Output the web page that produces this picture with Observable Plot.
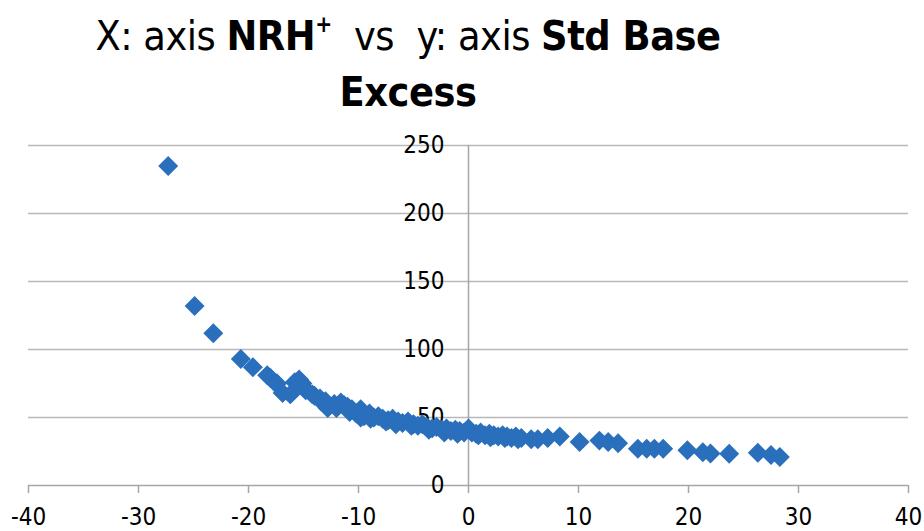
<!DOCTYPE html>
<html>
<head>
<meta charset="utf-8">
<script src="https://cdn.jsdelivr.net/npm/d3@7"></script>
<script src="https://cdn.jsdelivr.net/npm/@observablehq/plot@0.6"></script>
<style>
  html, body { margin: 0; padding: 0; background: #fff; }
  #wrap { position: relative; width: 924px; height: 531px; overflow: hidden; }
  #title { position: absolute; left: 0; top: 8px; width: 816px; text-align: center;
    font-family: "DejaVu Sans Condensed", "Liberation Sans Narrow", sans-serif;
    font-size: 41px; line-height: 56px; color: #000; letter-spacing: -0.5px; }
  #title b { font-weight: bold; }
  #title sup { font-size: 0.55em; vertical-align: 0.8em; line-height: 0; }
</style>
</head>
<body>
<div id="wrap">
  <div id="title">X: axis <b>NRH<sup>+</sup></b>&nbsp; vs&nbsp; y: axis <b>Std Base</b><br><b>Excess</b></div>
</div>
<script>
// NRH+ (x axis)
const nrh = [-27.3, -24.9, -23.2, -20.7, -19.6, -18.3, -18.0, -17.5, -17.4, -16.9, -16.2, -15.8,
  -15.4, -15.1, -15.0, -14.8, -14.2, -14.0, -13.5, -13.4, -13.0, -12.8, -12.2, -12.0, -11.6,
  -11.3, -11.0, -10.8, -10.6, -10.2, -9.8, -9.8, -9.5, -9.0, -8.9, -8.6, -8.2, -7.8, -7.5,
  -7.3, -6.9, -6.6, -6.4, -6.0, -5.5, -5.2, -5.0, -4.6, -4.2, -3.8, -3.6, -3.3, -2.9, -2.4,
  -2.2, -2.0, -1.6, -1.2, -1.0, -0.8, -0.4, 0.0, 0.3, 0.7, 0.9, 1.1, 1.5, 1.9, 2.0, 2.3, 2.7,
  3.1, 3.3, 3.5, 3.9, 4.3, 4.5, 4.8, 5.7, 6.3, 7.2, 8.3, 10.1, 11.9, 12.7, 13.6, 15.4, 16.2,
  16.9, 17.7, 19.9, 21.3, 22.0, 23.7, 26.3, 27.5, 28.3];
// Std Base Excess (y axis)
const sbe = [235, 132, 112, 93, 87, 81, 79, 75, 75, 68, 67, 76,
  78, 75, 72, 70, 67, 66, 64, 62, 62, 57, 60, 57, 61,
  59, 58, 54, 56, 53, 56, 50, 51, 53, 49, 50, 51, 49, 47,
  48, 49, 45, 47, 46, 47, 44, 45, 44, 45, 43, 41, 42, 43, 41,
  39, 42, 40, 41, 38, 40, 39, 42, 39, 38, 37, 39, 37, 38, 35.5, 37, 36,
  37, 35, 36, 35, 36, 34, 35, 34, 34, 35, 36, 32, 33, 32, 31, 27, 27,
  27, 27, 26, 24.5, 23.5, 23.3, 24, 22.5, 21];
const xTicks = [-40, -30, -20, -10, 0, 10, 20, 30, 40];
const yTicks = [0, 50, 100, 150, 200, 250];

const points = nrh.map((x, i) => ({x, y: sbe[i]}));
const font = '"DejaVu Sans Condensed", "Liberation Sans Narrow", sans-serif';

const chart = Plot.plot({
  width: 924,
  height: 531,
  marginTop: 145,
  marginBottom: 46,
  marginLeft: 28,
  marginRight: 16,
  style: {fontFamily: font, background: "transparent", overflow: "visible"},
  x: {domain: [-40, 40], ticks: xTicks},
  y: {domain: [0, 250], ticks: yTicks, axis: null},
  marks: [
    Plot.gridY(yTicks.filter(d => d > 0), {stroke: "#b8b8b8", strokeOpacity: 1, strokeWidth: 1.5}),
    Plot.ruleX([0], {y1: 0, y2: 250, stroke: "#a6a6a6", strokeWidth: 1.5}),
    Plot.ruleY([0], {stroke: "#a6a6a6", strokeWidth: 1.5}),
    Plot.axisX(xTicks, {tickSize: 8, tickPadding: 14, fontSize: 24, tickFormat: d => String(d), stroke: "#a6a6a6", strokeWidth: 1.5, color: "#000", label: null}),
    Plot.text(yTicks, {x: 0, y: d => d, text: d => String(d), dx: -24, textAnchor: "end", fontSize: 24, fill: "#000"}),
    Plot.dot(points, {x: "x", y: "y", symbol: "diamond2", r: 9, fill: "#2a6fbc", stroke: "none"})
  ]
});
const wrap = document.getElementById("wrap");
chart.style.position = "absolute";
chart.style.left = "0";
chart.style.top = "0";
wrap.insertBefore(chart, wrap.firstChild);
</script>
</body>
</html>
